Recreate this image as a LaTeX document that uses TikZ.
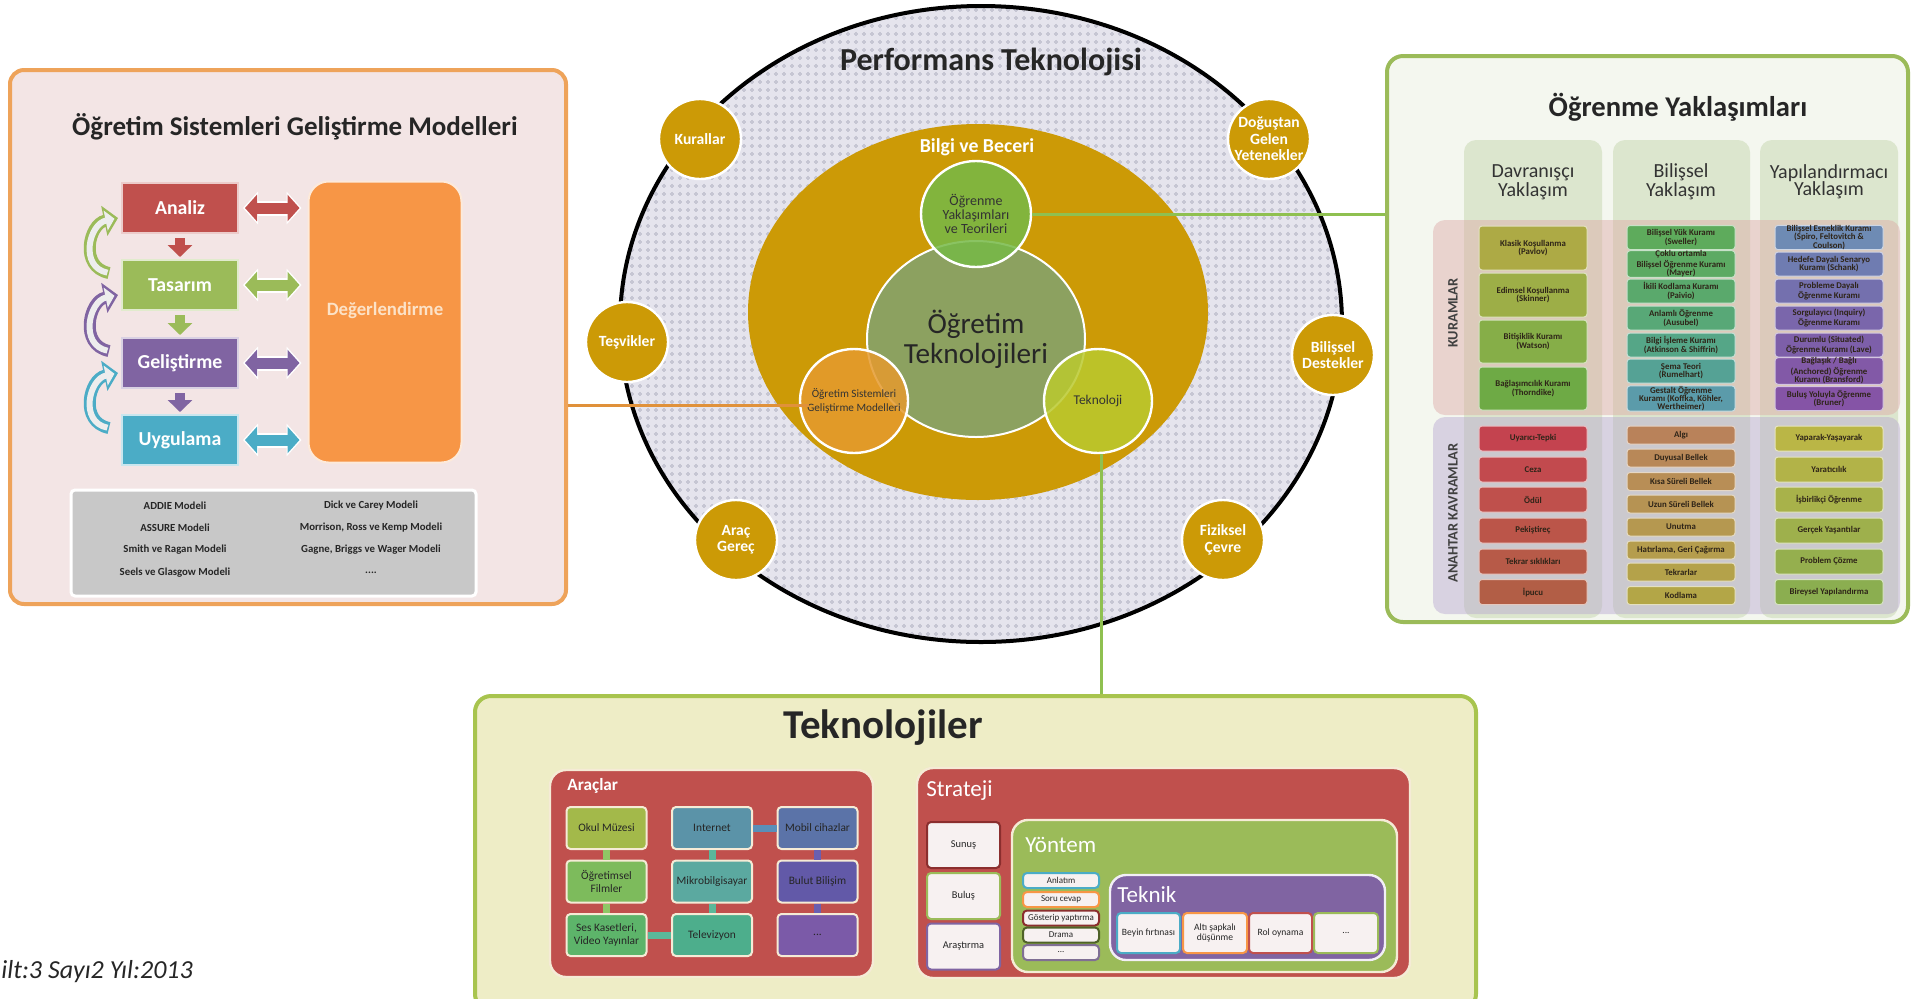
\documentclass[tikz,border=0pt]{standalone}
\usepackage{fontspec}
\setmainfont{Carlito}
\usetikzlibrary{shapes.geometric,arrows.meta,calc}
\definecolor{cred}{HTML}{C0504D}
\definecolor{cgreen}{HTML}{9BBB59}
\definecolor{cpurple}{HTML}{8064A2}
\definecolor{ccyan}{HTML}{4BACC6}
\definecolor{corange}{HTML}{F79646}
\definecolor{orangeb}{HTML}{EEA35A}
\definecolor{pinkbg}{HTML}{F3E5E5}
\definecolor{greybox}{HTML}{C8C8C8}
\definecolor{textpale}{HTML}{FCE2C7}
\definecolor{arrowfill}{HTML}{EDEDED}
\definecolor{ptgrey}{HTML}{E5E4ED}
\definecolor{plusc}{HTML}{C6C6D3}
\definecolor{gold}{HTML}{CC9A06}
\definecolor{ogcolor}{HTML}{8CA160}
\definecolor{ogrenc}{HTML}{76B947}
\definecolor{osgmc}{HTML}{E59A2F}
\definecolor{teknoc}{HTML}{BACA2F}
\definecolor{lineorange}{HTML}{E0913A}
\definecolor{linegreen}{HTML}{8FC050}
\definecolor{rpbg}{HTML}{F4F7EF}
\definecolor{colbg}{HTML}{DCE6CE}
\definecolor{bandpink}{HTML}{DDA8A6}
\definecolor{bandlav}{HTML}{B8A6D0}
\definecolor{tpbg}{HTML}{EEEDC6}
\definecolor{tpborder}{HTML}{A8C44E}
\definecolor{darkt}{HTML}{2E2418}
\definecolor{creamb}{HTML}{F5EBD6}
\definecolor{k1a}{HTML}{ADAA45}\definecolor{k1b}{HTML}{9DAE47}\definecolor{k1c}{HTML}{86AE48}\definecolor{k1d}{HTML}{6EAA45}
\definecolor{k2a}{HTML}{5EAB5C}\definecolor{k2b}{HTML}{5CAA63}\definecolor{k2c}{HTML}{5AA96C}\definecolor{k2d}{HTML}{58A877}
\definecolor{k2e}{HTML}{55A687}\definecolor{k2f}{HTML}{55A295}\definecolor{k2g}{HTML}{5B9BAA}
\definecolor{k3a}{HTML}{6E8BB4}\definecolor{k3b}{HTML}{6F7CB1}\definecolor{k3c}{HTML}{7470AE}\definecolor{k3d}{HTML}{7A66AB}
\definecolor{k3e}{HTML}{7D5FA9}\definecolor{k3f}{HTML}{8259A7}\definecolor{k3g}{HTML}{8554A6}
\definecolor{a1a}{HTML}{C4434F}\definecolor{a1b}{HTML}{C24A4E}\definecolor{a1c}{HTML}{BF504C}\definecolor{a1d}{HTML}{BB5549}
\definecolor{a1e}{HTML}{B75A48}\definecolor{a1f}{HTML}{B25E46}
\definecolor{a2a}{HTML}{B9825A}\definecolor{a2b}{HTML}{B88858}\definecolor{a2c}{HTML}{B88E56}\definecolor{a2d}{HTML}{B69353}
\definecolor{a2e}{HTML}{B59850}\definecolor{a2f}{HTML}{B59D4D}\definecolor{a2g}{HTML}{B4A24A}\definecolor{a2h}{HTML}{B3A647}
\definecolor{a3a}{HTML}{BAB646}\definecolor{a3b}{HTML}{B2B348}\definecolor{a3c}{HTML}{A8B24A}\definecolor{a3d}{HTML}{9EB04C}
\definecolor{a3e}{HTML}{95AF4E}\definecolor{a3f}{HTML}{8BAE50}
\definecolor{t1}{HTML}{A3B94A}\definecolor{t2}{HTML}{7DBB5C}\definecolor{t3}{HTML}{5DB46A}
\definecolor{t4}{HTML}{5B93A8}\definecolor{t5}{HTML}{5BA9A0}\definecolor{t6}{HTML}{4DAE8C}
\definecolor{t7}{HTML}{5B73A8}\definecolor{t8}{HTML}{6259A8}\definecolor{t9}{HTML}{7B5AA8}
\definecolor{bandg}{HTML}{8FC765}\definecolor{bandt}{HTML}{5BB89A}\definecolor{bandb}{HTML}{5A8FB8}\definecolor{bandp}{HTML}{6A5FB0}
\definecolor{sunb}{HTML}{8B2E2E}\definecolor{dgreen}{HTML}{4F6228}\definecolor{wbox}{HTML}{F7F1F1}
\begin{document}
\begin{tikzpicture}[x=0.5pt,y=-0.5pt,
  panel/.style={rectangle, rounded corners=7pt, line width=2pt},
  stepbox/.style={rectangle, fill=#1, draw=white!70!#1, line width=1pt, minimum width=58pt, minimum height=25pt, text=white, font=\bfseries\fontsize{9.9}{11}\selectfont},
  mtext/.style={font=\bfseries\fontsize{5.4}{6.2}\selectfont, text=black!85, inner sep=0pt},
  circ/.style={ellipse, inner sep=0pt},
  smallc/.style={circ, fill=gold, draw=white, line width=1.2pt, minimum width=41pt, minimum height=40pt},
  ctext/.style={align=center, text=white, font=\bfseries\fontsize{7.8}{8.2}\selectfont, inner sep=0pt},
  kitem/.style={rectangle, rounded corners=1.5pt, fill=#1, draw=white!65!#1, line width=0.5pt, minimum width=54pt, inner sep=0pt, align=center, text=darkt, font=\bfseries\fontsize{4.4}{4.2}\selectfont},
  hdr/.style={align=center, font=\fontsize{10}{8.6}\selectfont, text=black!80},
  vlab/.style={rotate=90, font=\bfseries\fontsize{7.2}{8}\selectfont, text=black!75},
  grp/.style={rectangle, rounded corners=8pt, draw=creamb, line width=1.2pt},
  aitem/.style={rectangle, rounded corners=2pt, fill=#1, draw=creamb, line width=1pt, minimum width=40pt, minimum height=21pt, inner sep=0pt, align=center, font=\fontsize{5.7}{6.3}\selectfont, text=black!85},
  sitem/.style={rectangle, rounded corners=2pt, fill=wbox, draw=#1, line width=1pt, inner sep=0pt, align=center, font=\fontsize{4.8}{5.4}\selectfont, text=black!85},
  grplbl/.style={anchor=west, text=white, inner sep=0pt, font=\fontsize{11.5}{13}\selectfont},
]
\useasboundingbox (0,0) rectangle (1924,998);

% ================= LEFT PANEL =================
\node[panel, draw=orangeb, fill=pinkbg, minimum width=278pt, minimum height=267pt] (lpanel) at (288,337) {};
\node[font=\bfseries\fontsize{13.5}{15}\selectfont, text=black!85] (ltitle) at (295,127) {Öğretim Sistemleri Geliştirme Modelleri};
\node[stepbox=cred] (analiz) at (180,208) {Analiz};
\node[stepbox=cgreen] (tasarim) at (180,285) {Tasarım};
\node[stepbox=cpurple] (gelis) at (180,363) {Geliştirme};
\node[stepbox=ccyan] (uygul) at (180,440) {Uygulama};
\node[rectangle, rounded corners=10pt, fill=corange, draw=white!80!corange, line width=1pt, minimum width=76.5pt, minimum height=140.5pt] (deger) at (385,322) {};
\node[text=textpale, font=\bfseries\fontsize{9.4}{11}\selectfont] (degerlbl) at ($(deger.center)+(0,-12)$) {Değerlendirme};
\foreach \nn/\clr in {analiz/cred, tasarim/cgreen, gelis/cpurple, uygul/ccyan} {
  \draw[white, line width=7.5pt, {Triangle[width=16pt,length=7.5pt]}-{Triangle[width=16pt,length=7.5pt]}] ($(\nn.east)+(4,0)$) -- ($(\nn.east -| deger.west)+(-6,0)$);
  \draw[\clr, line width=5.5pt, {Triangle[width=13pt,length=6pt]}-{Triangle[width=13pt,length=6pt]}] ($(\nn.east)+(6,0)$) -- ($(\nn.east -| deger.west)+(-8,0)$);
}
\foreach \aa/\bb/\clr in {analiz/tasarim/cred, tasarim/gelis/cgreen, gelis/uygul/cpurple} {
  \draw[\clr, line width=5pt, -{Triangle[width=12pt,length=6pt]}, shorten <=2pt, shorten >=1pt] (\aa.south) -- (\bb.north);
}
\foreach \aa/\bb/\clr in {tasarim/analiz/cgreen, gelis/tasarim/cpurple, uygul/gelis/ccyan} {
  \draw[\clr, line width=6pt, -{Triangle[width=15pt,length=7pt]}] ($(\aa.west)+(-12,-12)$) .. controls ($(\aa.west)+(-42,-18)$) and ($(\bb.west)+(-32,16)$) .. ($(\bb.west)+(-3,10)$);
  \draw[arrowfill, line width=3pt, shorten >=1.8pt, shorten <=0.8pt, -{Triangle[width=10pt,length=4.5pt]}] ($(\aa.west)+(-12,-12)$) .. controls ($(\aa.west)+(-42,-18)$) and ($(\bb.west)+(-32,16)$) .. ($(\bb.west)+(-3,10)$);
}
\node[rectangle, rounded corners=2pt, fill=greybox, draw=white, line width=1.5pt, minimum width=202.5pt, minimum height=53pt] (models) at (273.5,543) {};
\node[mtext] (m1) at (175,506) {ADDIE Modeli};
\node[mtext] (m2) at (175,528) {ASSURE Modeli};
\node[mtext] (m3) at (175,550) {Smith ve Ragan Modeli};
\node[mtext] (m4) at (175,573) {Seels ve Glasgow Modeli};
\node[mtext] (m5) at (371,506) {Dick ve Carey Modeli};
\node[mtext] (m6) at (371,528) {Morrison, Ross ve Kemp Modeli};
\node[mtext] (m7) at (371,550) {Gagne, Briggs ve Wager Modeli};
\node[mtext] (m8) at (371,573) {....};

% ================= CENTER =================
\node[circ, fill=ptgrey, minimum width=361pt, minimum height=318pt] (perf) at (981,324) {};
\begin{scope}
  \clip (981,324) ellipse [x radius=180.5pt, y radius=159pt];
  \foreach \i in {0,...,92} \draw[plusc, line width=1pt, dash pattern=on 2.4pt off 1.6pt] (616+8*\i,-0.4) -- (616+8*\i,650);
  \foreach \j in {0,...,81} \draw[plusc, line width=1pt, dash pattern=on 2.4pt off 1.6pt] (613.6,2+8*\j) -- (1360,2+8*\j);
\end{scope}
\draw[black, line width=2pt] (perf.center) ellipse [x radius=180.5pt, y radius=159pt];
\node[font=\bfseries\fontsize{16}{18}\selectfont, text=black!85] (ptitle) at (991,62) {Performans Teknolojisi};
\node[circ, fill=gold, minimum width=230pt, minimum height=188pt] (bilgi) at (978,312) {};
\node[ctext, font=\bfseries\fontsize{9.9}{11}\selectfont] (bilgilbl) at (977,147) {Bilgi ve Beceri};
\node[circ, fill=ogcolor, draw=white, line width=1pt, minimum width=109pt, minimum height=98pt] (ogtek) at (976,339) {};
\node[align=center, inner sep=0pt, font=\fontsize{14.6}{15}\selectfont, text=black!85] (ogteklbl) at (ogtek.center) {Öğretim\\Teknolojileri};
\node[circ, fill=ogrenc, fill opacity=0.85, draw=white, line width=1.2pt, minimum width=55pt, minimum height=53pt] (ogrenme) at (976,214) {};
\node[align=center, inner sep=0pt, font=\fontsize{7}{7.2}\selectfont, text=black!80] (ogrenmelbl) at (ogrenme.center) {Öğrenme\\Yaklaşımları\\ve Teorileri};
\node[circ, fill=osgmc, fill opacity=0.85, draw=white, line width=1.2pt, minimum width=54pt, minimum height=52pt] (osgm) at (854,401) {};
\node[align=center, inner sep=0pt, font=\fontsize{5.6}{6.6}\selectfont, text=black!80] (osgmlbl) at (osgm.center) {Öğretim Sistemleri\\Geliştirme Modelleri};
\node[circ, fill=teknoc, fill opacity=0.85, draw=white, line width=1.2pt, minimum width=54pt, minimum height=52pt] (tekno) at (1098,401) {};
\node[align=center, inner sep=0pt, font=\fontsize{6.7}{7.5}\selectfont, text=black!80] (teknolbl) at (tekno.center) {Teknoloji};

\node[smallc] (kural) at (700,139) {};
\node[ctext] at (kural.center) {Kurallar};
\node[smallc] (dogus) at (1269,139) {};
\node[ctext] at (dogus.center) {Doğuştan\\Gelen\\Yetenekler};
\node[smallc] (tesvik) at (627,342) {};
\node[ctext] at (tesvik.center) {Teşvikler};
\node[smallc] (bilis) at (1333,355) {};
\node[ctext] at (bilis.center) {Bilişsel\\Destekler};
\node[smallc] (arac) at (736,540) {};
\node[ctext] at (arac.center) {Araç\\Gereç};
\node[smallc] (fizik) at (1223,540) {};
\node[ctext] at (fizik.center) {Fiziksel\\Çevre};

% ================= RIGHT PANEL =================
\node[rectangle, rounded corners=8pt, draw=cgreen, line width=2pt, fill=rpbg, minimum width=260.5pt, minimum height=283pt] (rpanel) at (1647.5,339) {};
\node[font=\bfseries\fontsize{14.3}{16}\selectfont, text=black!85] (rtitle) at (1678,107) {Öğrenme Yaklaşımları};
\node[rectangle, rounded corners=6pt, fill=colbg, minimum width=69pt, minimum height=239pt] (col1) at (1533,379) {};
\node[rectangle, rounded corners=6pt, fill=colbg, minimum width=68.5pt, minimum height=239pt] (col2) at (1681.5,379) {};
\node[rectangle, rounded corners=6pt, fill=colbg, minimum width=69pt, minimum height=239pt] (col3) at (1829,379) {};
\node[hdr] (h1) at (1533,182) {Davranışçı\\Yaklaşım};
\node[hdr] (h2) at (1681,182) {Bilişsel\\Yaklaşım};
\node[hdr] (h3) at (1829,182) {Yapılandırmacı\\Yaklaşım};
\node[rectangle, rounded corners=6pt, fill=bandpink, fill opacity=0.45, minimum width=233.5pt, minimum height=97.5pt] (kband) at (1666.5,317.5) {};
\node[rectangle, rounded corners=6pt, fill=bandlav, fill opacity=0.45, minimum width=233.5pt, minimum height=98.5pt] (aband) at (1666.5,515.5) {};
\node[vlab] (kuramlbl) at (1453,313) {KURAMLAR};
\node[vlab] (anahlbl) at (1453,513) {ANAHTAR KAVRAMLAR};

\foreach \yy/\hgt/\clr/\txt [count=\i] in {
  248/44/k1a/{Klasik Koşullanma\\(Pavlov)},
  295/44/k1b/{Edimsel Koşullanma\\(Skinner)},
  341.5/43/k1c/{Bitişiklik Kuramı\\(Watson)},
  388.5/43/k1d/{Bağlaşımcılık Kuramı\\(Thorndike)}}
  \node[kitem=\clr, minimum height=\hgt/2*1pt] (ka\i) at (1533,\yy) {\txt};
\foreach \yy/\clr/\txt [count=\i] in {
  237.5/k2a/{Bilişsel Yük Kuramı\\(Sweller)},
  264/k2b/{Çoklu ortamla\\Bilişsel Öğrenme Kuramı\\(Mayer)},
  291/k2c/{İkili Kodlama Kuramı\\(Paivio)},
  318/k2d/{Anlamlı Öğrenme\\(Ausubel)},
  345/k2e/{Bilgi İşleme Kuramı\\(Atkinson \& Shiffrin)},
  371/k2f/{Şema Teori\\(Rumelhart)},
  398.5/k2g/{Gestalt  Öğrenme\\Kuramı (Koffka, Köhler,\\Wertheimer)}}
  \node[kitem=\clr, minimum height=12pt] (kb\i) at (1681,\yy) {\txt};
\foreach \yy/\clr/\txt [count=\i] in {
  237.5/k3a/{Bilişsel Esneklik Kuramı\\(Spiro, Feltovitch \&\\Coulson)},
  264/k3b/{Hedefe Dayalı Senaryo\\Kuramı (Schank)},
  291/k3c/{Probleme Dayalı\\Öğrenme Kuramı},
  318/k3d/{Sorgulayıcı (Inquiry)\\Öğrenme Kuramı},
  345/k3e/{Durumlu (Situated)\\Öğrenme Kuramı (Lave)},
  371/k3f/{Bağlaşık / Bağlı\\(Anchored) Öğrenme\\Kuramı (Bransford)},
  398.5/k3g/{Buluş Yoluyla Öğrenme\\(Bruner)}}
  \node[kitem=\clr, minimum height=12pt] (kc\i) at (1829,\yy) {\txt};
\foreach \yy/\clr/\txt [count=\i] in {
  438.5/a1a/{Uyarıcı-Tepki}, 469.5/a1b/{Ceza}, 499.5/a1c/{Ödül},
  530.5/a1d/{Pekiştireç}, 561.5/a1e/{Tekrar sıklıkları}, 592/a1f/{İpucu}}
  \node[kitem=\clr, minimum height=12.5pt] (aa\i) at (1533,\yy) {\txt};
\foreach \yy/\clr/\txt [count=\i] in {
  435/a2a/{Algı}, 458/a2b/{Duyusal Bellek}, 481.5/a2c/{Kısa Süreli Bellek},
  504/a2d/{Uzun Süreli Bellek}, 527/a2e/{Unutma}, 550/a2f/{Hatırlama, Geri Çağırma},
  572/a2g/{Tekrarlar}, 595.5/a2h/{Kodlama}}
  \node[kitem=\clr, minimum height=9pt] (ab\i) at (1681,\yy) {\txt};
\foreach \yy/\clr/\txt [count=\i] in {
  438.5/a3a/{Yaparak-Yaşayarak}, 469.5/a3b/{Yaratıcılık}, 499.5/a3c/{İşbirlikçi Öğrenme},
  530.5/a3d/{Gerçek Yaşantılar}, 561.5/a3e/{Problem Çözme}, 592/a3f/{Bireysel Yapılandırma}}
  \node[kitem=\clr, minimum height=12.5pt] (ac\i) at (1829,\yy) {\txt};

% ================= BOTTOM PANEL =================
\node[rectangle, rounded corners=8pt, draw=tpborder, line width=2pt, fill=tpbg, minimum width=500.5pt, minimum height=157pt] (tpanel) at (975.5,853) {};
\node[font=\bfseries\fontsize{20.5}{23}\selectfont, text=black!85] (ttitle) at (883,728) {Teknolojiler};

\node[grp, fill=cred, minimum width=161.5pt, minimum height=103.5pt] (araclar) at (711.5,873.5) {};
\node[grplbl, font=\bfseries\fontsize{8.6}{10}\selectfont] (araclbl) at (567,786) {Araçlar};
\node[aitem=t1] (okul) at (606.5,828) {Okul Müzesi};
\node[aitem=t2] (ofilm) at (606.5,881.5) {Öğretimsel\\Filmler};
\node[aitem=t3] (ses) at (606.5,935) {Ses Kasetleri,\\Video Yayınlar};
\node[aitem=t4] (inet) at (712,828) {Internet};
\node[aitem=t5] (mikro) at (712,881.5) {Mikrobilgisayar};
\node[aitem=t6] (tv) at (712,935) {Televizyon};
\node[aitem=t7] (mobil) at (817.5,828) {Mobil cihazlar};
\node[aitem=t8] (bulut) at (817.5,881.5) {Bulut Bilişim};
\node[aitem=t9] (adots) at (817.5,935) {...};
\draw[bandg, line width=3.5pt] (okul.south) -- (ofilm.north);
\draw[bandg, line width=3.5pt] (ofilm.south) -- (ses.north);
\draw[bandt, line width=3.5pt] (ses.east) -- (tv.west);
\draw[bandt, line width=3.5pt] (tv.north) -- (mikro.south);
\draw[bandt, line width=3.5pt] (mikro.north) -- (inet.south);
\draw[bandb, line width=3.5pt] (inet.east) -- (mobil.west);
\draw[bandp, line width=3.5pt] (mobil.south) -- (bulut.north);
\draw[bandp, line width=3.5pt] (bulut.south) -- (adots.north);

\node[grp, fill=cred, minimum width=246.5pt, minimum height=105pt] (strat) at (1163.5,873) {};
\node[grplbl] (stratlbl) at (926,791) {Strateji};
\node[sitem=sunb, minimum width=36.5pt, minimum height=23pt, font=\fontsize{5.2}{6}\selectfont] (sunus) at (963.5,845) {Sunuş};
\node[sitem=cgreen, minimum width=36.5pt, minimum height=23pt, font=\fontsize{5.2}{6}\selectfont] (bulus) at (963.5,896) {Buluş};
\node[sitem=cpurple, minimum width=36.5pt, minimum height=23pt, font=\fontsize{5.2}{6}\selectfont] (arast) at (963.5,946.5) {Araştırma};
\node[grp, fill=cgreen, minimum width=192.5pt, minimum height=76pt] (yontem) at (1204.5,896) {};
\node[grplbl] (yontemlbl) at (1025,845) {Yöntem};
\node[sitem=ccyan, minimum width=38pt, minimum height=7.5pt, font=\fontsize{4.5}{5}\selectfont] (anlatim) at (1061,880.5) {Anlatım};
\node[sitem=corange, minimum width=38pt, minimum height=7.5pt, font=\fontsize{4.5}{5}\selectfont] (soru) at (1061,899.5) {Soru cevap};
\node[sitem=sunb, minimum width=38pt, minimum height=7.5pt, font=\fontsize{4.5}{5}\selectfont] (goster) at (1061,918) {Gösterip yaptırma};
\node[sitem=dgreen, minimum width=38pt, minimum height=7.5pt, font=\fontsize{4.5}{5}\selectfont] (drama) at (1061,935) {Drama};
\node[sitem=cpurple!60!gray, minimum width=38pt, minimum height=7.5pt, font=\fontsize{4.5}{5}\selectfont] (ydots) at (1061,952.5) {...};
\node[grp, fill=cpurple, draw=white!90!cpurple, minimum width=137.5pt, minimum height=42.5pt] (teknik) at (1247.5,917.5) {};
\node[grplbl] (tekniklbl) at (1117,895) {Teknik};
\node[sitem=ccyan, minimum width=31.5pt, minimum height=20pt] (beyin) at (1148.5,933) {Beyin fırtınası};
\node[sitem=corange, minimum width=32pt, minimum height=20pt] (alti) at (1215,933) {Altı şapkalı\\düşünme};
\node[sitem=cred, minimum width=31.5pt, minimum height=20pt] (rol) at (1280.5,933) {Rol oynama};
\node[sitem=cgreen, minimum width=32pt, minimum height=20pt] (tdots) at (1346,933) {...};

% ================= CONNECTORS =================
\draw[lineorange, line width=1.5pt] ($(osgm.west)+(10,4)$) -- (lpanel.east |- {$(osgm.west)+(0,4)$});
\draw[linegreen, line width=1.5pt] (ogrenme.east) -- (ogrenme.east -| rpanel.west);
\draw[linegreen, line width=1.5pt] ($(tekno.south)+(3,0)$) -- ($(tekno.south |- tpanel.north)+(3,0)$);

\node[anchor=west, inner sep=0pt, font=\itshape\fontsize{13}{15}\selectfont, text=black!85] (footer) at (1,972) {ilt:3 Sayı2 Yıl:2013};
\end{tikzpicture}
\end{document}
